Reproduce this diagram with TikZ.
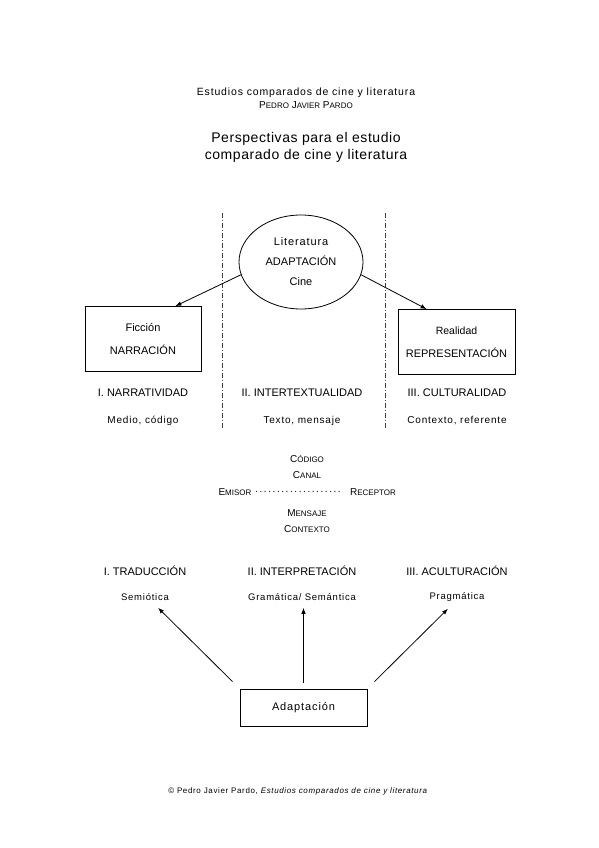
\documentclass[tikz,border=0pt]{standalone}
\usepackage{fontspec}
\setmainfont{Liberation Sans}
\newfontfamily\spaced[LetterSpace=8]{Liberation Sans}
\newfontfamily\spacedt[LetterSpace=4]{Liberation Sans}
\usetikzlibrary{arrows.meta}
\usetikzlibrary{shapes.geometric}
\newcommand{\smc}[2]{#1{\fontsize{8}{9}\selectfont#2}}

\begin{document}
\begin{tikzpicture}[x=1pt, y=-1pt, font=\fontsize{11}{13}\selectfont,
  box/.style={draw, thick, align=center, inner sep=0},
  lbl/.style={inner sep=1},
  >={Latex[length=6pt, width=4.5pt]}]
\useasboundingbox (0,0) rectangle (599,848);
% cabecera
\node[lbl, font=\fontsize{10.5}{12}\spaced] (head) at (306,93) {Estudios comparados de cine y literatura};
\node[lbl, font=\fontsize{10}{12}\selectfont] (auth) at (306,105) {\smc{P}{EDRO} \smc{J}{AVIER} \smc{P}{ARDO}};
\node[lbl, align=center, font=\fontsize{14}{17}\spacedt] (title) at (306,147) {Perspectivas para el estudio\\ comparado de cine y literatura};
% separadores
\foreach \x in {222,385} {
 \draw[gray!50!black, thick, dash pattern=on 5pt off 2pt on 1pt off 2pt] (\x,213)--++(0,216);
}
\node[draw, thick, ellipse, minimum width=124, minimum height=94, align=center] (ell) at (301,262) {{\spaced Literatura}\\[7pt] ADAPTACI\'ON\\[7pt] Cine};
\node[box, minimum width=116, minimum height=65] (fic) at (143,339) {\fontsize{11}{13}\selectfont Ficci\'on\\[10pt] NARRACI\'ON};
\node[box, minimum width=117, minimum height=65] (rea) at (456.5,342) {\fontsize{10.5}{12}\selectfont Realidad\\[10pt] REPRESENTACI\'ON};
\draw[->, thick] (ell.192) -- ([xshift=-26pt]fic.north east);
\draw[->, thick] (ell.348) -- ([xshift=29pt]rea.north west);
\foreach \x/\n/\t/\s in {143/nar/I. NARRATIVIDAD/{Medio, c\'odigo},
  302/int/II. INTERTEXTUALIDAD/{Texto, mensaje},
  457/cul/III. CULTURALIDAD/{Contexto, referente}} {
 \node[lbl] (\n) at (\x,393) {\t};
 \node[lbl, font=\fontsize{10}{12}\spaced] (\n-s) at (\x,421) {\s};
}
% esquema de la comunicacion
\node[lbl] (cod) at (307,459) {\fontsize{10}{12}\selectfont \smc{C}{\'ODIGO}};
\node[lbl] (can) at (307,475) {\fontsize{10}{12}\selectfont \smc{C}{ANAL}};
\node[lbl] (emi) at (235,492) {\fontsize{10}{12}\selectfont \smc{E}{MISOR}};
\node[lbl] (dots) at (298,492) {\fontsize{10}{12}\selectfont \makebox[87pt]{\xleaders\hbox to 4.35pt{\hss.\hss}\hfill}};
\node[lbl] (rec) at (373,492) {\fontsize{10}{12}\selectfont \smc{R}{ECEPTOR}};
\node[lbl] (men) at (307,513) {\fontsize{10}{12}\selectfont \smc{M}{ENSAJE}};
\node[lbl] (con) at (307,529) {\fontsize{10}{12}\selectfont \smc{C}{ONTEXTO}};
% niveles
\foreach \x/\n/\t/\s in {145/tra/I. TRADUCCI\'ON/Semi\'otica,
  302/inp/II. INTERPRETACI\'ON/{Gram\'atica/ Sem\'antica},
  457/acu/III. ACULTURACI\'ON/Pragm\'atica} {
 \node[lbl] (\n) at (\x,571) {\t};
 \node[lbl, font=\fontsize{9.5}{12}\spaced] (\n-s) at (\x,597) {\s};
}
\node[box, minimum width=127, minimum height=37, font=\fontsize{11}{13}\spaced] (adap) at (303.5,707.5) {Adaptaci\'on};
\draw[->, thick, shorten <=10pt] (adap.north west) -- ([xshift=13pt, yshift=-6pt]tra-s.south);
\draw[->, thick, shorten <=6pt] (adap.north) -- ([yshift=-6pt]adap.north |- inp-s.south);
\draw[->, thick, shorten <=10pt] (adap.north east) -- ([xshift=-9pt, yshift=-6pt]acu-s.south);
% pie
\node[lbl, font=\fontsize{8}{10}\spaced] (foot) at (298,791) {\textcopyright{} Pedro Javier Pardo, \textit{Estudios comparados de cine y literatura}};
\end{tikzpicture}
\end{document}
